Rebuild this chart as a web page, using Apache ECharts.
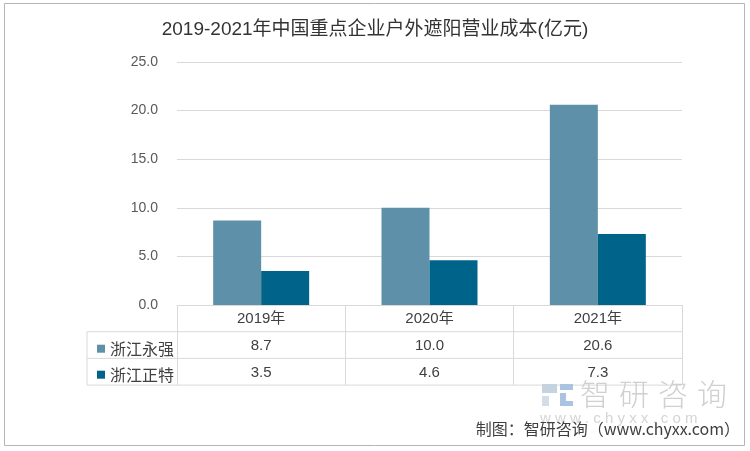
<!DOCTYPE html>
<html><head><meta charset="utf-8">
<script src="https://cdn.jsdelivr.net/npm/echarts@6/dist/echarts.min.js"></script>
<style>html,body{margin:0;padding:0;background:#fff}#c{width:750px;height:451px}</style>
</head><body><div id="c"></div>
<script>
const categories = ['2019年', '2020年', '2021年'];
const seriesNames = ['浙江永强', '浙江正特'];
const yongqiang = [8.7, 10.0, 20.6];
const zhengte = [3.5, 4.6, 7.3];
const title = '2019-2021年中国重点企业户外遮阳营业成本(亿元)';
const source = '制图：智研咨询（www.chyxx.com）';
const watermarkChars = ['智', '研', '咨', '询'];
const watermarkUrl = 'w w w . c h y x x . c o m';

const colors = ['#5E91A9', '#00648A'];
const gridLeft = 177, gridRight = 682, axisY = 305;
const rowH = 26.7;
const lineColor = '#d9d9d9';
const fontFam = '"Liberation Sans","Noto Sans CJK SC",sans-serif';

const chart = echarts.init(document.getElementById('c'));
const graphics = [
  {type:'rect', shape:{x:4.5,y:3.5,width:740,height:442}, style:{fill:'none',stroke:'#b5b5b5',lineWidth:1}, z:-1},
  // table horizontal lines
  {type:'line', shape:{x1:87,y1:axisY+rowH,x2:gridRight,y2:axisY+rowH}, style:{stroke:lineColor,lineWidth:1}},
  {type:'line', shape:{x1:87,y1:axisY+2*rowH,x2:gridRight,y2:axisY+2*rowH}, style:{stroke:lineColor,lineWidth:1}},
  {type:'line', shape:{x1:87,y1:axisY+3*rowH,x2:gridRight,y2:axisY+3*rowH}, style:{stroke:lineColor,lineWidth:1}},
  {type:'line', shape:{x1:87,y1:axisY+rowH,x2:87,y2:axisY+3*rowH}, style:{stroke:lineColor,lineWidth:1}},
  // watermark logo
  {type:'rect', shape:{x:542,y:384,width:15,height:9}, style:{fill:'#c5d2e0'}},
  {type:'rect', shape:{x:542,y:396,width:7,height:10}, style:{fill:'#d3dde8'}},
  {type:'rect', shape:{x:560,y:384,width:13,height:6}, style:{fill:'#a9c3e0'}},
  {type:'rect', shape:{x:560,y:393,width:6,height:13}, style:{fill:'#a9c3e0'}},
  {type:'rect', shape:{x:560,y:401,width:13,height:5}, style:{fill:'#a9c3e0'}},
  {type:'text', left:540, top:411, style:{text:watermarkUrl, fill:'#d5d5d5', font:'15px "Liberation Sans",sans-serif'}},
  {type:'text', right:10, top:421, style:{text:source, fill:'#404040', font:'16px "Noto Sans CJK SC",sans-serif'}, z:10}
];
watermarkChars.forEach(function(ch, i){
  graphics.push({type:'text', left:580 + i*39, top:379, style:{text:ch, fill:'#d0d0d0', font:'300 30px "Noto Sans CJK SC",sans-serif'}});
});

chart.setOption({
  animation:false,
  title:{text:title, left:'center', top:15, textStyle:{fontSize:19, fontWeight:'normal', color:'#333', fontFamily:fontFam}},
  legend:{data:seriesNames, orient:'vertical', left:92, top:axisY+rowH+4, itemGap:10, itemWidth:8, itemHeight:8, icon:'rect',
    textStyle:{fontSize:16, color:'#404040', fontFamily:'"Noto Sans CJK SC",sans-serif'}, selectedMode:false},
  grid:{left:gridLeft, right:750-gridRight, top:62, bottom:451-axisY},
  xAxis:{type:'category', data:categories,
    axisLine:{lineStyle:{color:lineColor}},
    axisTick:{show:true, length:3*rowH, lineStyle:{color:lineColor}},
    axisLabel:{margin:1, lineHeight:rowH, color:'#404040', fontSize:15, fontFamily:fontFam,
      formatter:function(v, i){return v + '\n' + yongqiang[i].toFixed(1) + '\n' + zhengte[i].toFixed(1);}}
  },
  yAxis:{type:'value', min:0, max:25, interval:5,
    axisLine:{show:false}, axisTick:{show:false},
    axisLabel:{margin:19, color:'#595959', fontSize:14, fontFamily:fontFam, formatter:v=>v.toFixed(1)},
    splitLine:{lineStyle:{color:lineColor}}},
  series:[
    {name:seriesNames[0], type:'bar', data:yongqiang, barWidth:48, barGap:'0%', itemStyle:{color:colors[0]}},
    {name:seriesNames[1], type:'bar', data:zhengte, barWidth:48, barGap:'0%', itemStyle:{color:colors[1]}}
  ],
  graphic:graphics
});
</script></body></html>
